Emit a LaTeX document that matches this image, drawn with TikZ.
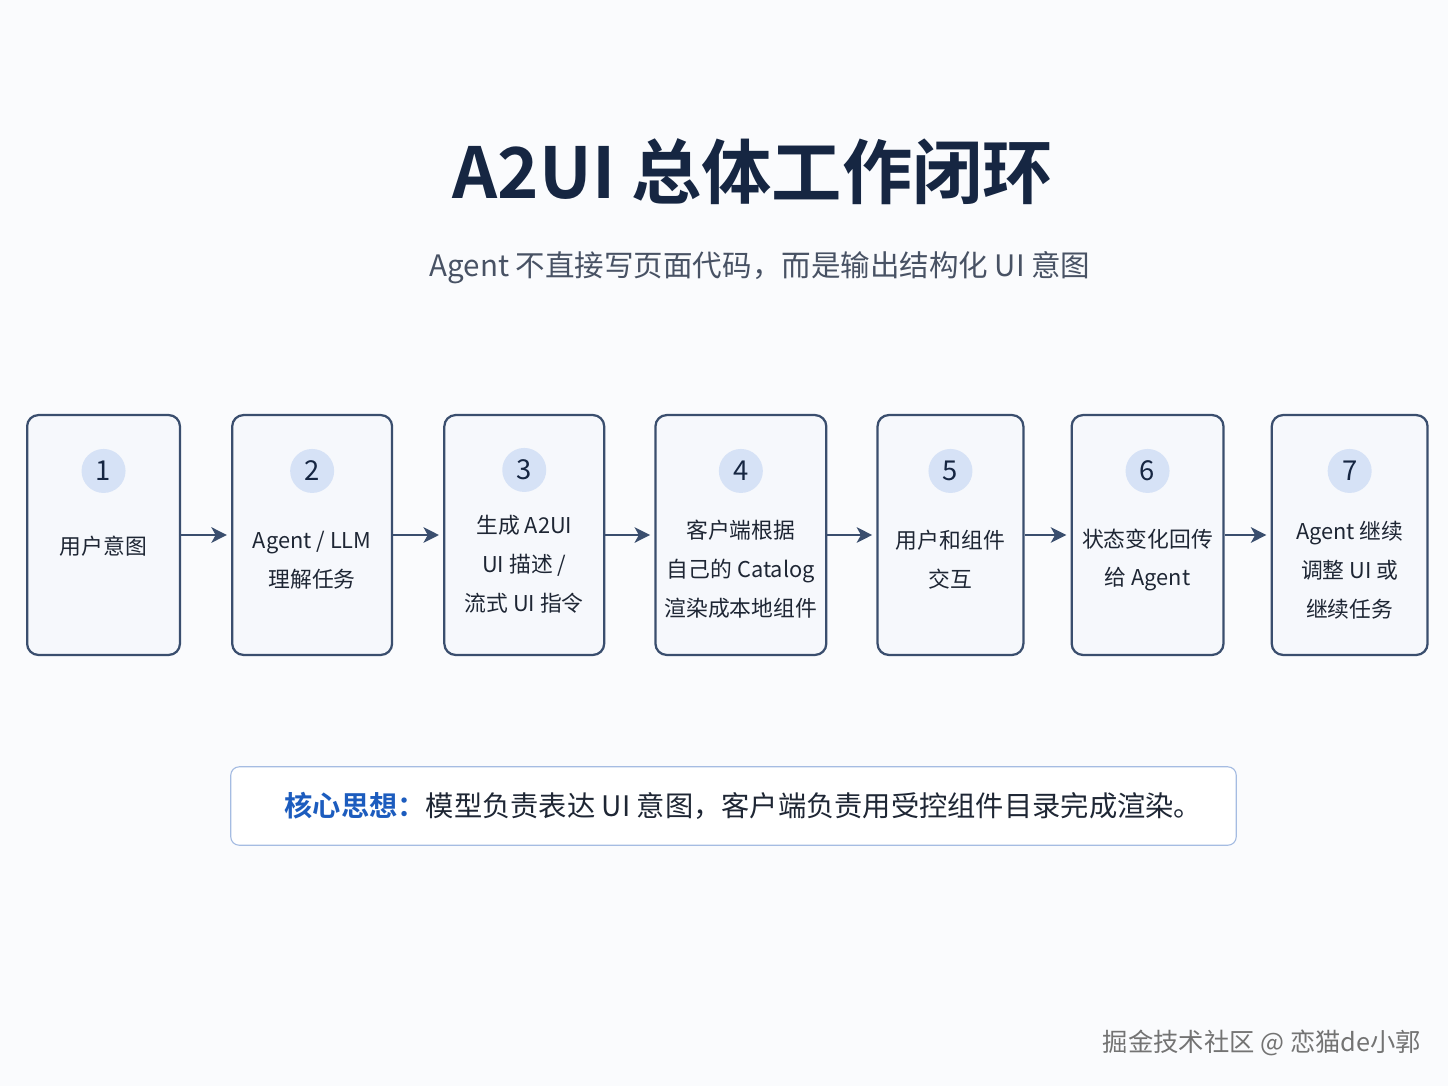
\documentclass[tikz,border=0pt]{standalone}
\usepackage{fontspec}
\setmainfont{Noto Sans CJK SC}[BoldFont={Noto Sans CJK SC Bold}]
\usepackage{xcolor}
\usepackage{tikz}
\definecolor{pagebg}{RGB}{250, 251, 253}
\definecolor{stepline}{RGB}{58, 78, 110}
\definecolor{stepfill}{RGB}{246, 248, 252}
\definecolor{dotfill}{RGB}{214, 226, 246}
\definecolor{titlenavy}{RGB}{22, 38, 66}
\definecolor{subgray}{RGB}{72, 82, 100}
\definecolor{bodytext}{RGB}{30, 38, 52}
\definecolor{ideablue}{RGB}{28, 92, 190}
\definecolor{idealine}{RGB}{165, 188, 226}
\usetikzlibrary{arrows.meta, positioning, calc}

\begin{document}
\begin{tikzpicture}[
        x=0.025cm, y=-0.025cm,
        stepbox/.style={rectangle, draw=stepline, fill=stepfill, line width=1.6pt,
                    minimum height=5.995cm, rounded corners=8pt, inner sep=0pt},
        numdot/.style={circle, fill=dotfill, minimum size=1.1cm, inner sep=0pt,
                    text=titlenavy, font=\fontsize{19.5}{19.5}\selectfont},
        steptext/.style={align=center, text=bodytext, inner sep=0pt,
                    font=\fontsize{15.5}{27.7}\selectfont},
        arrow/.style={-{Stealth[length=11pt, width=11pt, inset=3pt]}, line width=1.8pt, stepline,
                    shorten >=3pt}
    ]
        \fill[pagebg] (0,0) rectangle (1448,1086);
        \useasboundingbox (0,0) rectangle (1448,1086);

        % title and subtitle
        \node[text=titlenavy, font=\fontsize{50}{50}\selectfont\bfseries] (title) at (753,172) {A2UI 总体工作闭环};
        \node[text=subgray, font=\fontsize{21}{21}\selectfont] (subtitle) at (760,268) {Agent 不直接写页面代码，而是输出结构化 UI 意图};

        % the seven steps
        \node[stepbox, minimum width=3.82cm, anchor=west] (box1) at (26,535) {};
        \node[stepbox, minimum width=3.995cm, right=1.25cm of box1] (box2) {};
        \node[stepbox, minimum width=3.995cm, right=1.25cm of box2] (box3) {};
        \node[stepbox, minimum width=4.27cm, right=1.225cm of box3] (box4) {};
        \node[stepbox, minimum width=3.645cm, right=1.225cm of box4] (box5) {};
        \node[stepbox, minimum width=3.795cm, right=1.15cm of box5] (box6) {};
        \node[stepbox, minimum width=3.895cm, right=1.15cm of box6] (box7) {};

        \node[numdot] (n1) at ($(box1.north)+(0,57)$) {1};
        \node[numdot] (n2) at ($(box2.north)+(0,57)$) {2};
        \node[numdot] (n3) at ($(box3.north)+(0,56)$) {3};
        \node[numdot] (n4) at ($(box4.north)+(0,57)$) {4};
        \node[numdot] (n5) at ($(box5.north)+(0,57)$) {5};
        \node[numdot] (n6) at ($(box6.north)+(0,57)$) {6};
        \node[numdot] (n7) at ($(box7.north)+(0,57)$) {7};

        \node[steptext] (t1) at ($(box1.north)+(0,132)$) {用户意图};
        \node[steptext] (t2) at ($(box2.north)+(0,146)$) {Agent / LLM\\理解任务};
        \node[steptext] (t3) at ($(box3.north)+(0,150)$) {生成 A2UI\\UI 描述 /\\流式 UI 指令};
        \node[steptext] (t4) at ($(box4.north)+(0,155)$) {客户端根据\\自己的 Catalog\\渲染成本地组件};
        \node[steptext] (t5) at ($(box5.north)+(0,146)$) {用户和组件\\交互};
        \node[steptext] (t6) at ($(box6.north)+(0,146)$) {状态变化回传\\给 Agent};
        \node[steptext] (t7) at ($(box7.north)+(0,156)$) {Agent 继续\\调整 UI 或\\继续任务};

        \draw[arrow] (box1.east) -- (box2.west);
        \draw[arrow] (box2.east) -- (box3.west);
        \draw[arrow] (box3.east) -- (box4.west);
        \draw[arrow] (box4.east) -- (box5.west);
        \draw[arrow] (box5.east) -- (box6.west);
        \draw[arrow] (box6.east) -- (box7.west);

        % core idea
        \node[rectangle, draw=idealine, fill=white, line width=0.8pt, rounded corners=6pt,
              minimum width=25.13cm, minimum height=1.96cm, text=bodytext,
              font=\fontsize{20.1}{20.1}\selectfont] (idea) at (733.5,806)
              {\hspace{14pt}{\color{ideablue}\bfseries 核心思想：}模型负责表达 UI 意图，客户端负责用受控组件目录完成渲染。};

        % watermark
        \node[text=black!55, font=\fontsize{18}{18}\selectfont] (mark) at (1262,1043) {掘金技术社区 @ 恋猫de小郭};
    \end{tikzpicture}
\end{document}
